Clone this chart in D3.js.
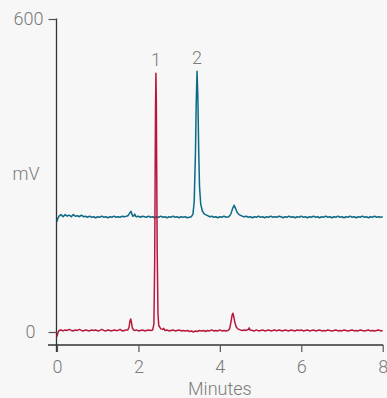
<!DOCTYPE html>
<html>
<head>
<meta charset="utf-8">
<script src="https://cdn.jsdelivr.net/npm/d3@7"></script>
<style>
  html, body { margin: 0; padding: 0; background: #f7f7f7; }
  svg { display: block; }
  text { font-family: Roboto, "Liberation Sans", Arial, sans-serif; font-weight: 300; fill: #7a7a7a; }
</style>
</head>
<body>
<svg id="chart" width="387" height="398"></svg>
<script>
// Chromatogram traces: [minutes, mV]
const traceRed = [
  [0.00,-9],[0.02,-2],[0.05,3],[0.10,4],[0.15,2],[0.20,4],[0.25,3],[0.30,5],[0.35,3],[0.40,2],
  [0.45,4],[0.50,3],[0.55,5],[0.60,3],[0.65,2],[0.70,4],[0.75,3],[0.80,2],[0.85,4],[0.90,3],
  [0.95,4],[1.00,2],[1.05,3],[1.10,5],[1.15,3],[1.20,2],[1.25,4],[1.30,3],[1.35,2],[1.40,4],
  [1.45,3],[1.50,3],[1.55,5],[1.60,2],[1.65,3],[1.70,4],[1.74,4],[1.77,9],[1.79,20],[1.81,25],
  [1.83,18],[1.85,8],[1.88,4],[1.92,3],[1.95,4],[2.00,2],[2.05,3],[2.10,4],[2.15,2],[2.20,3],
  [2.25,4],[2.30,3],[2.35,4],[2.38,15],[2.40,140],[2.42,430],[2.43,496],[2.44,440],[2.46,160],
  [2.48,35],[2.50,12],[2.52,10],[2.55,6],[2.60,5],[2.62,7],[2.65,3],[2.70,4],[2.75,2],[2.80,3],
  [2.85,4],[2.90,2],[2.95,3],[3.00,4],[3.05,2],[3.10,3],[3.15,2],[3.20,3],[3.25,1],[3.30,2],
  [3.35,0],[3.40,2],[3.45,1],[3.50,3],[3.55,2],[3.60,3],[3.65,1],[3.70,3],[3.75,2],[3.80,4],
  [3.85,2],[3.90,3],[3.95,2],[4.00,4],[4.05,2],[4.10,3],[4.15,2],[4.20,3],[4.24,6],[4.27,18],
  [4.30,32],[4.32,36],[4.34,30],[4.37,18],[4.40,10],[4.44,6],[4.50,4],[4.55,3],[4.60,4],[4.65,3],
  [4.70,5],[4.72,8],[4.74,4],[4.80,3],[4.85,2],[4.90,4],[4.95,2],[5.00,3],[5.05,4],[5.10,2],
  [5.15,3],[5.20,4],[5.25,2],[5.30,3],[5.35,4],[5.40,2],[5.45,4],[5.50,3],[5.55,2],[5.60,4],
  [5.65,3],[5.70,2],[5.75,4],[5.80,3],[5.85,2],[5.90,4],[5.95,3],[6.00,4],[6.05,2],[6.10,3],
  [6.15,4],[6.20,2],[6.25,3],[6.30,4],[6.35,2],[6.40,3],[6.45,4],[6.50,2],[6.55,3],[6.60,2],
  [6.65,4],[6.70,3],[6.75,2],[6.80,3],[6.85,4],[6.90,2],[6.95,3],[7.00,2],[7.05,4],[7.10,3],
  [7.15,2],[7.20,3],[7.25,4],[7.30,2],[7.35,3],[7.40,2],[7.45,4],[7.50,3],[7.55,2],[7.60,3],
  [7.65,4],[7.70,2],[7.75,3],[7.80,2],[7.85,3],[7.90,4],[7.95,2],[8.00,3]
];

const traceBlue = [
  [0.00,211],[0.02,218],[0.05,222],[0.10,225],[0.15,221],[0.20,225],[0.25,222],[0.30,224],[0.35,221],[0.40,225],
  [0.45,222],[0.50,223],[0.55,221],[0.60,224],[0.65,221],[0.70,222],[0.75,220],[0.80,222],[0.85,220],[0.90,221],
  [0.95,219],[1.00,221],[1.05,220],[1.10,222],[1.15,220],[1.20,221],[1.25,219],[1.30,221],[1.35,220],[1.40,222],
  [1.45,220],[1.50,221],[1.55,220],[1.60,222],[1.65,221],[1.70,222],[1.74,223],[1.77,226],[1.80,230],[1.82,231],
  [1.84,226],[1.86,222],[1.89,223],[1.91,226],[1.93,222],[1.96,221],[2.00,222],[2.05,220],[2.10,222],[2.15,221],
  [2.20,220],[2.25,222],[2.30,220],[2.35,221],[2.40,219],[2.45,221],[2.50,220],[2.55,222],[2.60,220],[2.65,221],
  [2.70,219],[2.75,221],[2.80,220],[2.85,222],[2.90,220],[2.95,221],[3.00,219],[3.05,221],[3.10,220],[3.15,221],
  [3.20,219],[3.25,220],[3.30,221],[3.34,226],[3.37,250],[3.40,340],[3.42,440],[3.44,500],[3.46,450],[3.48,350],
  [3.50,280],[3.53,245],[3.57,232],[3.62,226],[3.70,223],[3.75,221],[3.80,222],[3.85,220],[3.90,221],[3.95,219],
  [4.00,221],[4.05,220],[4.10,222],[4.15,220],[4.22,221],[4.27,226],[4.31,236],[4.35,243],[4.38,238],[4.42,230],
  [4.47,225],[4.55,222],[4.60,221],[4.65,222],[4.70,220],[4.75,221],[4.80,219],[4.85,221],[4.90,220],[4.95,222],
  [5.00,220],[5.05,221],[5.10,219],[5.15,221],[5.20,220],[5.25,222],[5.30,220],[5.35,221],[5.40,220],[5.45,222],
  [5.50,221],[5.55,219],[5.60,221],[5.65,220],[5.70,222],[5.75,220],[5.80,221],[5.85,219],[5.90,221],[5.95,220],
  [6.00,222],[6.05,220],[6.10,221],[6.15,219],[6.20,221],[6.25,220],[6.30,222],[6.35,220],[6.40,221],[6.45,219],
  [6.50,221],[6.55,220],[6.60,222],[6.65,220],[6.70,221],[6.75,219],[6.80,221],[6.85,220],[6.90,222],[6.95,220],
  [7.00,221],[7.05,219],[7.10,221],[7.15,220],[7.20,222],[7.25,220],[7.30,221],[7.35,219],[7.40,221],[7.45,220],
  [7.50,222],[7.55,220],[7.60,221],[7.65,219],[7.70,221],[7.75,220],[7.80,222],[7.85,220],[7.90,221],[7.95,220],[8.00,221]
];

// Peak labels: [minutes, mV at apex, label]
const peakLabels = [[2.43, 496, "1"], [3.44, 500, "2"]];

const xTicks = [0, 2, 4, 6, 8];
const yTicks = [0, 600];
const xTitle = "Minutes";
const yTitle = "mV";

const svg = d3.select("#chart");
const x = d3.scaleLinear().domain([0, 8]).range([57, 382.7]);
const y = d3.scaleLinear().domain([0, 600]).range([332, 19]);

const axisColor = "#333";
const xAxisY = 345;
const yAxisX = 56.5;

// Axes lines
svg.append("line")
  .attr("x1", x(0) - 9).attr("x2", x(8) + 0.5)
  .attr("y1", xAxisY).attr("y2", xAxisY)
  .attr("stroke", axisColor).attr("stroke-width", 1.3);
svg.append("line")
  .attr("x1", yAxisX).attr("x2", yAxisX)
  .attr("y1", y(600) - 0.5).attr("y2", xAxisY + 7)
  .attr("stroke", axisColor).attr("stroke-width", 1.3);

// X axis ticks and labels
const gx = svg.append("g").attr("transform", `translate(0,${xAxisY})`)
  .call(d3.axisBottom(x).tickValues(xTicks).tickSizeInner(7).tickSizeOuter(0).tickPadding(8).tickFormat(d3.format("d")));
gx.select(".domain").remove();
gx.selectAll(".tick line").attr("stroke", "#555").attr("stroke-width", 1.2);
gx.selectAll(".tick text").attr("font-size", 18).attr("fill", "#7a7a7a")
  .style("font-family", "Roboto, 'Liberation Sans', Arial, sans-serif");

// Y axis ticks and labels
const gy = svg.append("g").attr("transform", `translate(${yAxisX},0)`)
  .call(d3.axisLeft(y).tickValues(yTicks).tickSizeInner(8).tickSizeOuter(0).tickPadding(6).tickFormat(d3.format("d")));
gy.select(".domain").remove();
gy.selectAll(".tick line").attr("stroke", "#555").attr("stroke-width", 1.2);
gy.selectAll(".tick text").attr("font-size", 18).attr("fill", "#7a7a7a")
  .attr("x", d => d === 0 ? -21 : -13)
  .style("font-family", "Roboto, 'Liberation Sans', Arial, sans-serif");

// Axis titles
svg.append("text").attr("x", 26).attr("y", 174).attr("dy", "0.35em")
  .attr("text-anchor", "middle").attr("font-size", 18).text(yTitle);
svg.append("text").attr("x", x(4)).attr("y", 389).attr("dy", "0.35em")
  .attr("text-anchor", "middle").attr("font-size", 18).text(xTitle);

// Traces
const line = d3.line().x(d => x(d[0])).y(d => y(d[1])).curve(d3.curveLinear);
svg.append("path").datum(traceBlue)
  .attr("d", line).attr("fill", "none")
  .attr("stroke", "#0d6a85").attr("stroke-width", 1.5).attr("stroke-linejoin", "round");
svg.append("path").datum(traceRed)
  .attr("d", line).attr("fill", "none")
  .attr("stroke", "#b8173a").attr("stroke-width", 1.5).attr("stroke-linejoin", "round");

// Peak numbers
svg.selectAll(".peak-label").data(peakLabels).enter().append("text")
  .attr("class", "peak-label")
  .attr("x", d => x(d[0]))
  .attr("y", d => y(d[1]) - 7)
  .attr("text-anchor", "middle").attr("font-size", 18)
  .text(d => d[2]);
</script>
</body>
</html>
